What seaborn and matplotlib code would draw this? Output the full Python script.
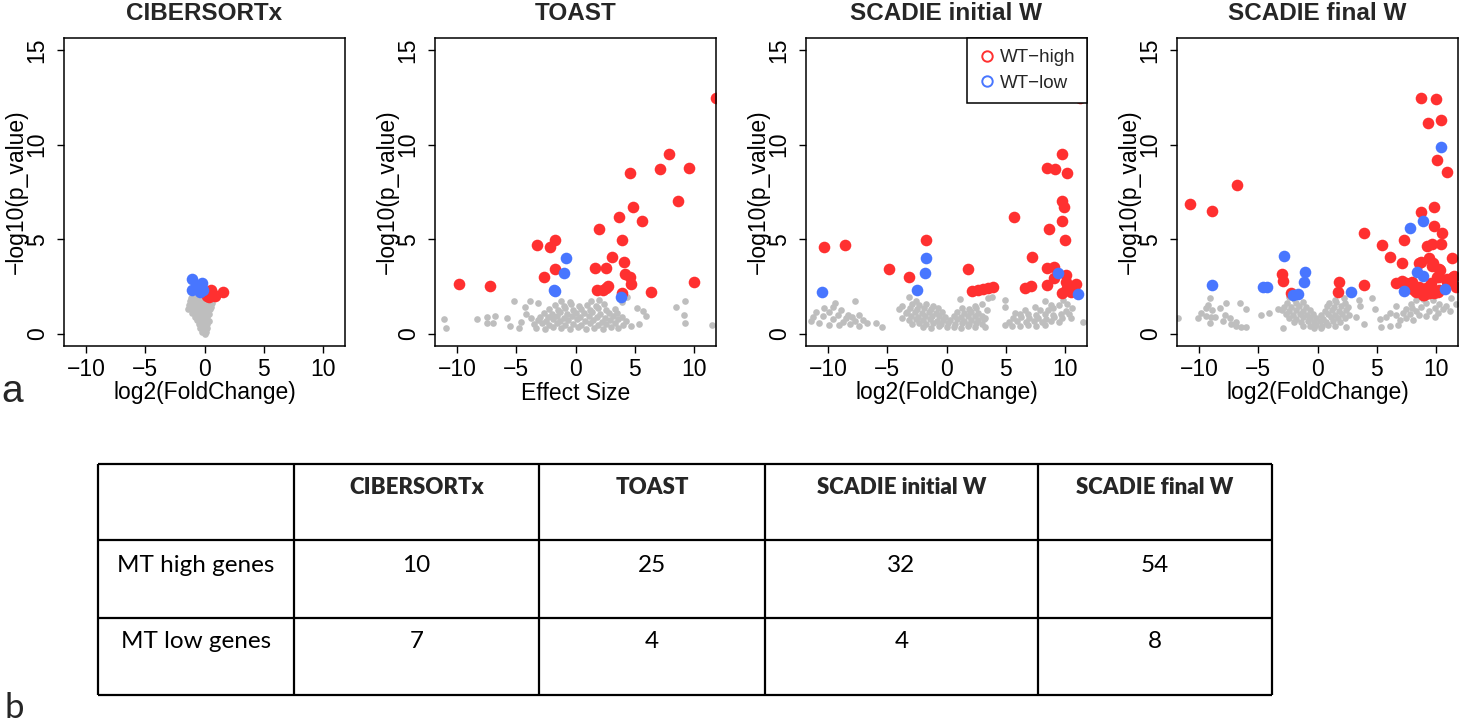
import matplotlib
matplotlib.use("Agg")
import matplotlib.pyplot as plt
import seaborn as sns
import pandas as pd
from matplotlib.lines import Line2D

# ---------------- data ----------------
panel_titles = ["CIBERSORTx", "TOAST", "SCADIE initial W", "SCADIE final W"]
x_labels = ["log2(FoldChange)", "Effect Size", "log2(FoldChange)", "log2(FoldChange)"]
legend_labels = ["WT\u2212high", "WT\u2212low"]

table_cols = ["CIBERSORTx", "TOAST", "SCADIE initial W", "SCADIE final W"]
table_rows = ["MT high genes", "MT low genes"]
mt_high = [10, 25, 32, 54]
mt_low = [7, 4, 4, 8]

cib_high = [(0.55, 2.35), (0.46, 2.05), (1.53, 2.20), (0.20, 2.02), (0.35, 1.98), (0.75, 2.06),
            (0.62, 2.18), (0.30, 2.22), (0.42, 2.12), (0.90, 2.02)]
cib_low = [(-1.02, 2.92), (-0.25, 2.70), (-1.08, 2.33), (-0.40, 2.20), (-0.30, 2.45), (-0.65, 2.55),
           (-0.15, 2.30)]
cib_ns = [(-1.1, 1.92), (-0.7, 1.9), (-0.3, 1.92), (0.1, 1.88), (0.45, 1.85),
          (-1.2, 1.72), (-0.85, 1.7), (-0.45, 1.72), (-0.05, 1.68), (0.3, 1.7), (0.6, 1.66),
          (-1.3, 1.52), (-0.9, 1.5), (-0.5, 1.52), (-0.1, 1.5), (0.25, 1.48), (0.55, 1.45),
          (-1.4, 1.32), (-1.0, 1.3), (-0.6, 1.32), (-0.2, 1.3), (0.15, 1.28), (0.45, 1.3),
          (-1.05, 1.12), (-0.65, 1.1), (-0.25, 1.12), (0.1, 1.1), (0.4, 1.08),
          (-0.8, 0.92), (-0.45, 0.9), (-0.1, 0.92), (0.25, 0.9),
          (-0.6, 0.72), (-0.25, 0.7), (0.1, 0.72), (0.35, 0.7),
          (-0.5, 0.52), (-0.15, 0.5), (0.2, 0.52),
          (-0.4, 0.32), (-0.05, 0.3), (0.2, 0.33),
          (-0.2, 0.12), (0.1, 0.1), (0.0, 0.02)]

toast_high = [(-9.87, 2.62), (-7.23, 2.55), (-3.28, 4.70), (-2.18, 4.61), (-1.74, 4.97), (-2.64, 3.00),
              (-1.77, 3.45), (1.96, 5.53), (1.68, 3.47), (2.57, 3.47), (3.08, 4.08), (3.64, 6.16),
              (3.95, 4.95), (4.06, 3.79), (4.62, 8.49), (4.82, 6.69), (5.60, 5.99), (7.14, 8.72),
              (7.92, 9.51), (8.68, 7.03), (9.60, 8.79), (10.03, 2.73), (6.39, 2.23), (1.82, 2.32),
              (2.74, 2.54), (2.30, 2.35), (2.60, 2.45), (4.20, 3.15), (4.62, 3.03), (4.70, 2.64),
              (3.92, 2.15), (11.90, 12.45)]
toast_low = [(-0.84, 4.03), (-1.01, 3.24), (-1.74, 2.29), (-1.85, 2.35), (3.85, 1.98)]
toast_ns = [(-11.13, 0.81), (-10.93, 0.30), (-8.32, 0.78), (-7.48, 0.88), (-7.48, 0.60), (-7.01, 0.56),
            (-6.78, 0.97), (-5.80, 0.83), (-5.52, 0.44), (-5.18, 1.76), (-3.84, 1.76), (-3.17, 1.65),
            (-4.29, 1.41), (-4.18, 1.06), (-4.57, 0.65), (-4.76, 0.30), (-3.78, 0.83), (5.18, 1.36),
            (5.68, 1.23), (5.93, 0.95), (5.35, 0.51), (4.73, 0.42), (8.49, 1.41), (9.27, 1.73),
            (9.16, 1.00), (9.24, 0.56), (11.57, 0.46), (4.34, 1.94), (3.92, 1.71),
            (-3.3, 0.32), (-2.6, 0.26), (-1.9, 0.36), (-1.2, 0.30), (-0.5, 0.25), (0.2, 0.35),
            (0.9, 0.28), (1.6, 0.33), (2.3, 0.26), (3.0, 0.36), (3.6, 0.30),
            (-3.5, 0.52), (-2.8, 0.57), (-2.2, 0.48), (-1.6, 0.56), (-0.9, 0.47), (-0.2, 0.55),
            (0.5, 0.50), (1.2, 0.57), (1.9, 0.46), (2.6, 0.53), (3.3, 0.58), (4.0, 0.48),
            (-3.2, 0.72), (-2.5, 0.68), (-1.9, 0.77), (-1.3, 0.67), (-0.6, 0.73), (0.1, 0.78),
            (0.8, 0.69), (1.5, 0.75), (2.2, 0.66), (2.9, 0.73), (3.6, 0.77), (4.3, 0.70),
            (-3.0, 0.92), (-2.3, 0.88), (-1.6, 0.97), (-1.0, 0.87), (-0.3, 0.94), (0.4, 0.89),
            (1.1, 0.96), (1.8, 0.91), (2.5, 0.86), (3.2, 0.95), (3.9, 0.90),
            (-2.7, 1.12), (-2.0, 1.08), (-1.3, 1.16), (-0.7, 1.07), (0.0, 1.13), (0.7, 1.09),
            (1.4, 1.17), (2.1, 1.06), (2.8, 1.13), (3.5, 1.09),
            (-2.2, 1.32), (-1.5, 1.28), (-0.9, 1.36), (-0.2, 1.27), (0.5, 1.34), (1.2, 1.29),
            (1.9, 1.37), (2.6, 1.26), (3.3, 1.31),
            (-1.7, 1.52), (-1.0, 1.48), (-0.4, 1.57), (0.3, 1.46), (1.0, 1.54), (1.7, 1.49), (2.4, 1.58),
            (-1.2, 1.72), (-0.5, 1.69), (1.3, 1.75), (2.0, 1.79)]

init_high = [(-10.34, 4.61), (-8.59, 4.70), (-4.86, 3.42), (-3.18, 3.00), (-1.77, 4.97), (1.83, 3.42),
             (2.13, 2.27), (2.64, 2.32), (3.06, 2.37), (3.48, 2.42), (3.90, 2.47), (5.73, 6.16),
             (6.66, 2.41), (7.14, 2.54), (7.22, 4.08), (8.54, 8.79), (9.18, 8.70), (9.80, 9.51),
             (10.17, 8.49), (9.80, 7.04), (9.94, 6.69), (9.75, 5.99), (8.68, 5.55), (10.03, 4.97),
             (8.54, 3.47), (9.10, 3.55), (8.54, 2.59), (9.10, 2.97), (10.08, 3.12), (10.14, 2.76),
             (10.22, 2.41), (9.80, 2.15), (10.50, 2.23), (10.98, 2.64), (10.08, 15.36), (11.26, 12.48)]
init_low = [(-10.50, 2.23), (-1.71, 4.03), (-1.80, 3.24), (-2.50, 2.31), (9.41, 3.24), (11.15, 2.10)]
init_ns = [(-11.46, 0.70), (-11.26, 0.88), (-10.47, 0.95), (-10.34, 1.36), (-9.63, 1.44), (-9.41, 1.65),
           (-7.73, 1.76), (-9.97, 0.48), (-9.21, 1.00), (-8.93, 1.27), (-8.51, 0.83), (-8.30, 1.00),
           (-7.95, 0.92), (-7.75, 0.70), (-7.39, 1.00), (-9.07, 0.48), (-8.20, 0.55), (-7.44, 0.42),
           (-7.10, 0.74), (-6.68, 0.60), (-5.98, 0.60), (-5.48, 0.35), (-10.80, 0.60), (-9.60, 0.80),
           (-8.75, 0.65), (-11.0, 1.15), (-9.9, 1.15),
           (-3.18, 1.97), (-3.73, 1.48), (-4.00, 1.30), (-3.79, 0.83), (1.18, 1.83), (3.51, 1.92),
           (3.85, 1.97), (3.43, 1.27), (3.29, 0.83), (3.29, 0.39), (-2.6, 1.75), (-3.4, 1.1),
           (2.4, 1.5), (2.0, 1.2), (3.0, 1.6),
           (-2.9, 1.57), (-2.3, 1.52), (-1.7, 1.58), (-1.1, 1.50),
           (-3.1, 1.35), (-2.5, 1.31), (-1.9, 1.38), (-1.3, 1.33), (-0.7, 1.37),
           (-3.3, 1.15), (-2.7, 1.19), (-2.1, 1.12), (-1.5, 1.17), (-0.9, 1.11), (-0.4, 1.16),
           (-3.0, 0.95), (-2.4, 0.91), (-1.8, 0.98), (-1.2, 0.93), (-0.6, 0.97), (-0.1, 0.92),
           (-3.2, 0.75), (-2.6, 0.79), (-2.0, 0.72), (-1.4, 0.77), (-0.8, 0.71), (-0.3, 0.76),
           (0.3, 0.73), (0.9, 0.78), (1.5, 0.71), (2.1, 0.76), (2.7, 0.72), (3.2, 0.77),
           (-2.9, 0.55), (-2.3, 0.59), (-1.7, 0.52), (-1.1, 0.57), (-0.5, 0.51), (0.1, 0.56),
           (0.7, 0.53), (1.3, 0.58), (1.9, 0.52), (2.5, 0.57), (3.0, 0.54),
           (-2.0, 0.38), (-1.3, 0.34), (-0.6, 0.40), (0.0, 0.35), (0.6, 0.39), (1.2, 0.34),
           (1.8, 0.40), (2.4, 0.36),
           (0.6, 0.95), (1.2, 0.91), (1.8, 0.97), (2.4, 0.93), (3.0, 0.98),
           (0.9, 1.15), (1.5, 1.12), (2.1, 1.17), (2.7, 1.13), (1.3, 1.35), (1.9, 1.32), (2.5, 1.37),
           (4.91, 1.80), (4.97, 1.41), (4.91, 0.48), (5.75, 1.09), (6.66, 1.27), (7.50, 1.41),
           (8.34, 1.76), (9.04, 1.36), (9.88, 1.80), (10.59, 1.36), (11.57, 0.65),
           (5.5, 0.45), (6.2, 0.42), (6.9, 0.48), (7.6, 0.43), (8.3, 0.47),
           (5.3, 0.65), (6.0, 0.68), (6.7, 0.62), (7.4, 0.67), (8.1, 0.63), (8.8, 0.68), (9.5, 0.64),
           (5.6, 0.85), (6.3, 0.88), (7.0, 0.83), (7.7, 0.87), (8.4, 0.82), (9.1, 0.88), (9.8, 0.84),
           (10.5, 0.87), (6.2, 1.05), (6.9, 1.08), (7.6, 1.03), (8.3, 1.07), (9.0, 1.02), (9.7, 1.08),
           (10.4, 1.04), (7.9, 1.25), (8.6, 1.28), (10.1, 1.23), (8.8, 1.55), (9.5, 1.52), (10.2, 1.58)]

final_high = [(-10.76, 6.87), (-8.93, 6.51), (-6.81, 7.87), (-3.01, 3.17), (-2.90, 2.82), (-2.25, 2.18),
              (1.83, 2.76), (1.75, 2.22), (3.97, 5.35), (3.97, 2.59), (5.49, 4.70), (6.15, 4.05),
              (7.33, 4.97), (7.13, 3.77), (6.63, 2.71), (7.13, 2.82), (7.47, 2.71), (8.79, 12.45),
              (10.00, 12.40), (9.38, 11.16), (10.43, 11.30), (10.09, 9.19), (10.99, 8.54), (8.79, 6.46),
              (9.86, 6.69), (9.86, 5.71), (10.51, 5.32), (9.25, 4.65), (9.72, 4.75), (10.43, 4.74),
              (9.44, 4.00), (8.60, 3.77), (9.72, 3.61), (10.29, 3.42), (11.41, 4.03), (10.14, 3.03),
              (11.56, 3.06), (10.99, 2.76), (8.03, 2.76), (8.17, 2.32), (8.60, 2.50), (9.02, 2.32),
              (9.44, 2.15), (9.86, 2.18), (10.29, 2.32), (11.70, 2.47), (7.75, 2.41), (8.88, 2.06),
              (9.58, 2.68), (8.77, 3.82), (9.75, 3.73), (10.37, 3.38), (10.26, 3.03), (11.45, 3.03),
              (10.94, 2.89), (9.75, 2.32), (9.19, 2.41), (8.35, 2.23), (9.47, 2.15), (10.18, 2.23),
              (9.04, 2.06), (7.22, 2.71)]
final_low = [(-8.93, 2.59), (-2.82, 4.14), (-4.59, 2.47), (-4.23, 2.50), (-2.05, 2.06), (-1.69, 2.10),
             (-1.18, 2.76), (-1.04, 3.29), (2.87, 2.23), (7.84, 5.58), (8.96, 5.99), (8.45, 3.29),
             (8.88, 3.06), (7.33, 2.27), (10.43, 9.89), (10.80, 2.36)]
final_ns = [(-11.8, 0.83), (-10.11, 0.83), (-9.83, 1.09), (-9.41, 1.36), (-9.13, 1.89), (-9.13, 0.60),
            (-9.0, 0.90), (-8.7, 0.90), (-8.28, 1.36), (-7.72, 1.62), (-7.86, 1.00), (-7.44, 0.83),
            (-7.30, 0.53), (-6.88, 0.65), (-6.59, 1.65), (-6.03, 1.30), (-6.45, 0.39), (-6.08, 0.39),
            (-9.46, 0.95), (-8.9, 1.25), (-9.3, 1.55), (-8.0, 0.7), (-6.9, 0.4),
            (-4.76, 1.00), (-4.11, 1.13), (-3.35, 1.30), (-2.93, 0.30), (-2.37, 1.97), (2.43, 0.39),
            (3.27, 0.92), (3.50, 1.80), (3.58, 1.46), (3.92, 0.51), (4.63, 1.92), (4.90, 1.30),
            (-2.0, 1.85), (1.5, 1.82), (2.2, 1.88),
            (-2.6, 1.65), (-1.8, 1.62), (-1.2, 1.68), (1.0, 1.63), (1.6, 1.67), (2.3, 1.62),
            (-2.8, 1.45), (-2.2, 1.42), (-1.6, 1.48), (-1.0, 1.43), (0.8, 1.47), (1.4, 1.42),
            (2.0, 1.48), (2.6, 1.44),
            (-3.0, 1.25), (-2.4, 1.22), (-1.8, 1.28), (-1.2, 1.23), (-0.6, 1.27), (0.6, 1.22),
            (1.2, 1.28), (1.8, 1.23), (2.4, 1.27),
            (-2.7, 1.05), (-2.1, 1.02), (-1.5, 1.08), (-0.9, 1.03), (-0.4, 1.07), (0.3, 1.02),
            (0.9, 1.08), (1.5, 1.03), (2.1, 1.07), (2.7, 1.03),
            (-2.4, 0.85), (-1.8, 0.82), (-1.2, 0.88), (-0.6, 0.83), (-0.1, 0.87), (0.5, 0.82),
            (1.1, 0.88), (1.7, 0.83), (2.3, 0.87),
            (-2.0, 0.65), (-1.4, 0.62), (-0.8, 0.68), (-0.3, 0.63), (0.2, 0.67), (0.7, 0.62),
            (1.3, 0.68), (1.9, 0.63),
            (-1.2, 0.45), (-0.6, 0.42), (-0.1, 0.48), (0.4, 0.43), (0.9, 0.47), (1.5, 0.42),
            (-0.3, 0.32), (0.3, 0.30),
            (5.39, 0.39), (5.30, 0.80), (5.75, 0.90), (6.10, 1.10), (6.65, 1.48), (6.65, 1.00),
            (7.00, 0.75), (7.49, 1.30), (7.80, 1.05), (7.93, 1.60), (8.35, 1.20), (8.77, 1.45),
            (9.19, 1.63), (9.47, 1.20), (9.75, 1.80), (9.90, 1.40), (10.30, 1.60), (10.60, 1.30),
            (9.90, 0.90), (8.35, 1.80), (8.90, 1.85), (11.33, 1.89), (11.70, 1.60), (7.49, 0.85),
            (8.07, 0.75), (6.80, 0.50), (6.10, 0.40), (8.6, 1.0), (9.2, 0.95), (10.2, 1.1),
            (8.0, 1.4), (7.2, 1.1), (10.9, 1.5), (11.2, 1.2)]

panel_data = [(cib_ns, cib_high, cib_low), (toast_ns, toast_high, toast_low),
              (init_ns, init_high, init_low), (final_ns, final_high, final_low)]

# ---------------- style ----------------
RED = "#FF3030"
BLUE = "#4876FF"
GRAY = "#BEBEBE"

sns.set_theme(style="white")
plt.rcParams['font.family'] = ['Liberation Sans', 'DejaVu Sans']

W, H = 1459, 722
fig = plt.figure(figsize=(W / 100, H / 100), dpi=100)


def px_rect(left, top, w, h):
    return [left / W, 1 - (top + h) / H, w / W, h / H]


# table layer (drawn underneath)
tab = fig.add_axes([0, 0, 1, 1], zorder=0)
tab.set_xlim(0, W)
tab.set_ylim(H, 0)
tab.axis("off")

lefts = [64, 435, 806, 1177]
AX_TOP, AX_W, AX_H = 38, 281, 308

for i, (ns, hi, lo) in enumerate(panel_data):
    ax = fig.add_axes(px_rect(lefts[i], AX_TOP, AX_W, AX_H), zorder=1)
    ax.patch.set_alpha(0)
    frames = []
    for grp, pts in (("ns", ns), ("high", hi), ("low", lo)):
        frames.append(pd.DataFrame(pts, columns=["x", "y"]).assign(group=grp))
    df = pd.concat(frames, ignore_index=True)
    for grp, color, size in (("ns", GRAY, 23), ("high", RED, 70), ("low", BLUE, 70)):
        sns.scatterplot(data=df[df["group"] == grp], x="x", y="y", color=color, s=size,
                        linewidth=0, ax=ax, legend=False)
    ax.set_xlim(-11.88, 11.88)
    ax.set_ylim(-0.63, 15.63)
    ax.set_xticks([-10, -5, 0, 5, 10])
    ax.set_yticks([0, 5, 10, 15])
    for sp in ax.spines.values():
        sp.set_visible(True)
        sp.set_color("black")
        sp.set_linewidth(1.1)
    ax.tick_params(axis="both", which="major", bottom=True, left=True, direction="out",
                   length=5, width=1.0, color="black", labelsize=16.5, labelcolor="black")
    ax.tick_params(axis="x", pad=4)
    ax.tick_params(axis="y", pad=6, labelrotation=90)
    for lab in ax.get_yticklabels():
        lab.set_va("center")
    ax.set_xlabel(x_labels[i], fontsize=16.5, color="black", va="center")
    ax.xaxis.set_label_coords(0.5, -47 / AX_H)
    ax.set_ylabel("\u2212log10(p_value)", fontsize=16.5, color="black", va="center")
    ax.yaxis.set_label_coords(-48 / AX_W, 0.5)
    fig.text((lefts[i] + AX_W / 2) / W, 1 - 13 / H, panel_titles[i], ha="center", va="center",
             fontsize=17.5, fontweight="bold")
    if i == 2:
        handles = [Line2D([], [], ls="none", marker="o", mfc="none", mec=c, ms=7.5, mew=1.4)
                   for c in (RED, BLUE)]
        leg = ax.legend(handles, legend_labels, loc="upper right", bbox_to_anchor=(1, 1),
                        borderaxespad=0, frameon=True, fancybox=False, edgecolor="black",
                        fontsize=13.5, handlelength=0.9, handletextpad=0.25, borderpad=0.6,
                        labelspacing=0.45, framealpha=1)
        leg.get_frame().set_linewidth(1.1)

fig.text(12 / W, 1 - 392 / H, "a", fontsize=28, ha="center", va="center")

# ---------------- table ----------------
col_lines = [98, 294, 539, 765, 1038, 1272]
row_lines = [464, 540, 618, 695]
tab.vlines(col_lines, row_lines[0], row_lines[-1], color="black", lw=1.6)
tab.hlines(row_lines, col_lines[0], col_lines[-1], color="black", lw=1.6)
TFONT = ["Lato", "DejaVu Sans"]
col_centers = [(col_lines[k] + col_lines[k + 1]) / 2 for k in range(len(col_lines) - 1)]
for k, name in enumerate(table_cols):
    tab.text(col_centers[k + 1], 488, name, ha="center", va="center", fontsize=16,
             fontweight="heavy", family=TFONT)
row_y = [565, 642]
for r, (label, vals) in enumerate(zip(table_rows, (mt_high, mt_low))):
    tab.text(col_centers[0], row_y[r], label, ha="center", va="center", fontsize=17.5,
             family=TFONT, color="black")
    for k, v in enumerate(vals):
        tab.text(col_centers[k + 1], row_y[r], str(v), ha="center", va="center", fontsize=17.5,
                 family=TFONT, color="black")
tab.text(14, 708, "b", ha="center", va="center", fontsize=25, family=TFONT)

fig.savefig("out.png", dpi=100)
